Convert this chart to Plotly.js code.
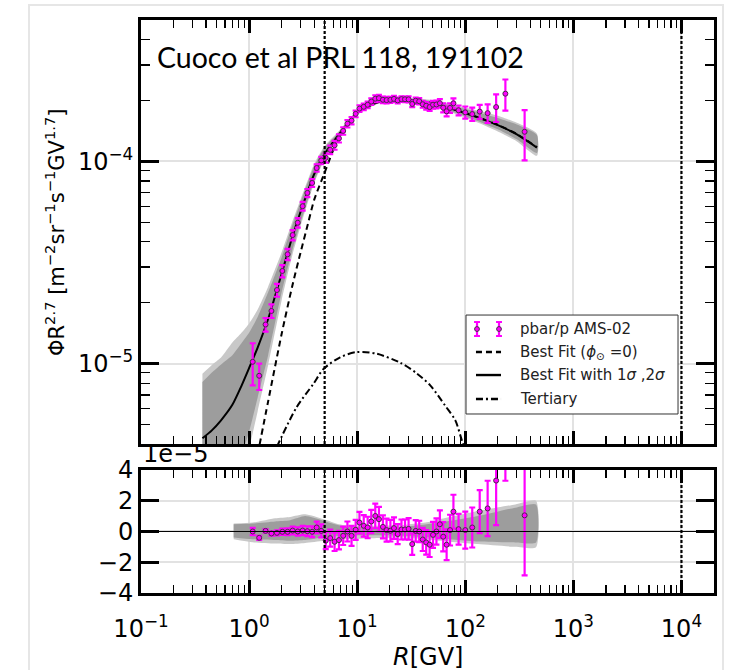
<!DOCTYPE html>
<html><head><meta charset="utf-8">
<script src="https://cdn.plot.ly/plotly-3.0.1.min.js"></script>
<style>
html,body{margin:0;padding:0;background:#fff;}
#wrap{position:relative;width:730px;height:670px;overflow:hidden;}
#chart{width:730px;height:670px;}
#frame{position:absolute;left:28px;top:4px;width:692px;height:700px;border:2px solid #e6e6e6;pointer-events:none;}
</style></head><body>
<div id="wrap"><div id="chart"></div><div id="frame"></div></div>
<script>
// ---------- data (flux values in units of 1e-5) ----------
const SCALE = 1e-5;
const R_data = [1.08,1.24,1.42,1.61,1.81,2.03,2.27,2.53,2.82,3.13,3.46,3.83,4.22,4.65,
  5.12,5.63,6.18,6.78,7.42,8.12,8.87,9.68,10.5,11.5,12.5,13.5,14.7,15.9,17.3,18.7,
  20.3,21.9,23.7,25.7,27.7,29.9,32.3,34.8,37.5,40.4,43.5,46.8,50.3,54.1,58.2,62.5,67.2,72.3,77.7,
  86.7,100,116,136,161,193,235,354];
const flux_e5 = [1.02,0.87,1.56,1.82,2.31,2.87,3.47,4.32,4.97,6.00,6.98,7.82,9.27,10.1,
  10.41,11.40,12.01,12.99,14.14,15.35,15.90,17.17,18.24,18.61,19.05,19.75,20.42,20.52,20.16,20.09,
  20.14,20.36,20.01,20.31,20.27,20.26,19.22,19.95,19.82,19.16,18.83,18.55,19.06,19.10,19.39,18.41,17.68,18.37,19.36,
  17.89,17.47,17.13,17.62,17.31,18.55,21.6,14.0];
const err_e5 = [0.24,0.13,0.12,0.14,0.17,0.2,0.22,0.25,0.27,0.3,0.32,0.35,0.38,0.42,
  0.55,0.55,0.6,0.6,0.6,0.65,0.65,0.65,0.7,0.7,0.7,0.75,0.8,0.8,0.75,0.75,
  0.7,0.7,0.65,0.65,0.65,0.7,0.7,0.7,0.7,0.75,0.8,0.8,0.85,0.85,0.9,0.95,1.0,1.0,1.1,
  1.0,1.2,1.3,1.4,1.8,2.9,3.8,3.9];
const resid_e5 = [0,-0.41,0.04,-0.13,-0.09,-0.02,-0.02,0.06,0,0.06,0.02,-0.02,0.26,0.04,
  -0.6,-0.43,-0.67,-0.56,-0.28,0,-0.28,0.11,0.58,0.37,0.26,0.65,1.01,0.8,0.3,0.09,
  0.05,0.22,-0.17,0.13,0.13,0.17,-0.82,0.04,0,-0.52,-0.71,-0.86,-0.22,0,0.47,-0.34,-0.86,0.09,1.29,
  0.15,0.09,0.26,1.29,1.5,3.31,7.1,1.05];

// best fit with 1 sigma / 2 sigma bands
const R_model = [0.37,0.45,0.55,0.7,0.85,1.0,1.2,1.5,2,2.5,3,4,5,6.5,8,10,15,20,30,50,80,130,200,300,460];
const best_e5 = [0.427,0.466,0.524,0.625,0.776,0.95,1.2,1.66,2.78,4.2,5.65,8.65,10.9,13.2,15.2,17.4,19.5,20.1,20.1,19.3,18.0,16.5,15.1,13.6,11.7];
const band2_hi_e5 = [0.89,0.98,1.07,1.27,1.42,1.58,1.85,2.4,3.55,5.0,6.5,9.7,11.9,13.8,15.65,17.8,19.9,20.5,20.55,20.05,19.0,17.85,16.8,15.5,13.7];
const band1_hi_e5 = [0.81,0.90,0.99,1.1,1.26,1.42,1.7,2.25,3.35,4.8,6.3,9.45,11.7,13.6,15.5,17.7,19.8,20.4,20.4,19.85,18.7,17.5,16.4,15.2,13.5];
const band1_lo_e5 = [0.15,0.17,0.2,0.26,0.35,0.46,0.68,1.1,2.25,3.6,5.0,8.0,10.4,12.9,14.95,17.1,19.25,19.85,19.8,18.9,17.45,15.85,14.4,12.85,11.0];
const band2_lo_e5 = [0.1,0.12,0.15,0.2,0.28,0.38,0.58,0.98,2.05,3.4,4.8,7.8,10.2,12.75,14.8,16.95,19.1,19.7,19.65,18.7,17.2,15.55,14.05,12.55,10.65];

// best fit with phi = 0
const R_phi0 = [1.2,1.5,2,2.5,3,3.5,4,5,6.5,8,10,15,20,30,50,80,130,200,300,460];
const phi0_e5 = [0.355,0.65,1.40,2.40,3.56,4.9,6.45,8.8,12.6,15.0,17.45,19.55,20.15,20.15,19.35,18.05,16.55,15.15,13.65,11.75];

// tertiary
const R_tert = [1.8,2.76,3.94,4.88,6.96,9.9,15,25,35,47.4,65,80.7,93,120];
const tert_e5 = [0.386,0.61,0.794,0.94,1.074,1.14,1.12,1.01,0.90,0.78,0.62,0.525,0.417,0.28];

// residual bands
const R_resband = [0.72,1.08,1.74,2.4,3.3,4.9,6.8,7.9,11.9,26.4,42.7,58.7,131,290,451];
const res2_hi = [0.52,0.58,0.86,0.95,1.12,0.8,0.47,0.4,0.37,0.43,0.58,0.8,1.33,1.76,2.0];
const res2_lo = [-0.5,-0.7,-0.78,-0.82,-0.75,-0.6,-0.52,-0.5,-0.45,-0.39,-0.5,-0.6,-0.82,-1.0,-1.03];
const res1_hi = [0.47,0.52,0.65,0.73,1.0,0.69,0.4,0.3,0.28,0.3,0.45,0.58,1.0,1.55,1.76];
const res1_lo = [-0.39,-0.5,-0.55,-0.6,-0.55,-0.39,-0.3,-0.27,-0.24,-0.28,-0.38,-0.45,-0.65,-0.71,-0.71];

// axes / labels
const xTickVals = [0.1,1,10,100,1000,10000];
const xTickText = ['10<sup>−1</sup>','10<sup>0</sup>','10<sup>1</sup>','10<sup>2</sup>','10<sup>3</sup>','10<sup>4</sup>'];
const yTickVals = [1e-5,1e-4];
const yTickText = ['10<sup>−5</sup>','10<sup>−4</sup>'];
const resTickVals = [-4,-2,0,2,4];
const V_LINES = [5, 1e4];
const X_RANGE = [0.1, 2e4];
const Y_RANGE = [4e-6, 5e-4];
const RES_RANGE = [-4, 4];
const legendLabels = ['pbar/p AMS-02','Best Fit (<i>ϕ</i><sub>⊙</sub> =0)','Best Fit with 1<i>σ</i> ,2<i>σ</i>','Tertiary'];

// ---------- build ----------
const sc = a => a.map(v => v*SCALE);
function poly(x, lo, hi){ return {x: x.concat(x.slice().reverse()), y: hi.concat(lo.slice().reverse())}; }
function minorLog(lo, hi){ const out=[]; for(let d=Math.floor(Math.log10(lo)); d<=Math.ceil(Math.log10(hi)); d++){ for(let k=2;k<=9;k++){ const v=k*Math.pow(10,d); if(v>lo && v<hi) out.push(v);} } return out; }

const FONT = 'DejaVu Sans';
const MAG = '#ff00ff';
const LIGHT = '#c8c8c8', DARK = '#9d9d9d';

const p2 = poly(R_model, sc(band2_lo_e5), sc(band2_hi_e5));
const p1 = poly(R_model, sc(band1_lo_e5), sc(band1_hi_e5));
const q2 = poly(R_resband, res2_lo, res2_hi);
const q1 = poly(R_resband, res1_lo, res1_hi);

const traces = [
  {x:p2.x, y:p2.y, xaxis:'x', yaxis:'y', mode:'lines', fill:'toself', fillcolor:LIGHT, line:{width:0, shape:'spline', smoothing:0.6}, hoverinfo:'skip'},
  {x:p1.x, y:p1.y, xaxis:'x', yaxis:'y', mode:'lines', fill:'toself', fillcolor:DARK, line:{width:0, shape:'spline', smoothing:0.6}, hoverinfo:'skip'},
  {x:R_phi0, y:sc(phi0_e5), xaxis:'x', yaxis:'y', mode:'lines', line:{color:'black', width:2, dash:'6px,4px', shape:'spline', smoothing:0.6}},
  {x:R_tert, y:sc(tert_e5), xaxis:'x', yaxis:'y', mode:'lines', line:{color:'black', width:2, dash:'7px,3px,2px,3px', shape:'spline', smoothing:0.8}},
  {x:R_model, y:sc(best_e5), xaxis:'x', yaxis:'y', mode:'lines', line:{color:'black', width:2, shape:'spline', smoothing:0.6}},
  {x:R_data, y:sc(flux_e5), xaxis:'x', yaxis:'y', mode:'markers',
   marker:{size:5, color:MAG, line:{color:'#4a2a4a', width:1}},
   error_y:{type:'data', array:sc(err_e5), visible:true, color:MAG, thickness:2.2, width:3}},
  {x:q2.x, y:q2.y, xaxis:'x2', yaxis:'y2', mode:'lines', fill:'toself', fillcolor:LIGHT, line:{width:0, shape:'spline', smoothing:0.6}, hoverinfo:'skip'},
  {x:q1.x, y:q1.y, xaxis:'x2', yaxis:'y2', mode:'lines', fill:'toself', fillcolor:DARK, line:{width:0, shape:'spline', smoothing:0.6}, hoverinfo:'skip'},
  {x:R_data, y:resid_e5, xaxis:'x2', yaxis:'y2', mode:'markers',
   marker:{size:5, color:MAG, line:{color:'#4a2a4a', width:1}},
   error_y:{type:'data', array:err_e5, visible:true, color:MAG, thickness:2.2, width:3}}
];

const axCommon = {showline:true, linewidth:3, linecolor:'black', mirror:'allticks', ticks:'inside', tickcolor:'black',
  showgrid:true, gridcolor:'#e2e2e2', gridwidth:2, zeroline:false, tickfont:{family:FONT, size:24, color:'black'}};
const minorX = {tickmode:'array', tickvals:minorLog(X_RANGE[0], X_RANGE[1]), ticks:'inside', ticklen:8, tickwidth:1.3, tickcolor:'black', showgrid:false};
const minorY = {tickmode:'array', tickvals:minorLog(Y_RANGE[0], Y_RANGE[1]), ticks:'inside', ticklen:9, tickwidth:1.3, tickcolor:'black', showgrid:false};

const yTop0 = 0.26, yBot1 = 0.2147;
const layout = {
  width:730, height:670, paper_bgcolor:'white', plot_bgcolor:'white', showlegend:false,
  margin:{l:141, r:16, t:20, b:77},
  font:{family:FONT, color:'black'},
  xaxis: Object.assign({}, axCommon, {type:'log', range:X_RANGE.map(Math.log10), domain:[0,1], anchor:'y',
    tickmode:'array', tickvals:xTickVals, ticktext:xTickText, showticklabels:false, ticklen:13, tickwidth:3, minor:minorX}),
  yaxis: Object.assign({}, axCommon, {type:'log', range:Y_RANGE.map(Math.log10), domain:[yTop0,1], anchor:'x',
    tickmode:'array', tickvals:yTickVals, ticktext:yTickText, ticklen:18, tickwidth:3, minor:minorY}),
  xaxis2: Object.assign({}, axCommon, {type:'log', range:X_RANGE.map(Math.log10), domain:[0,1], anchor:'y2',
    tickmode:'array', tickvals:xTickVals, ticktext:xTickText, ticklen:13, tickwidth:3, minor:minorX, ticklabelstandoff:12}),
  yaxis2: Object.assign({}, axCommon, {type:'linear', range:RES_RANGE, domain:[0,yBot1], anchor:'x2',
    tickmode:'array', tickvals:resTickVals, ticklen:18, tickwidth:3}),
  shapes: [], annotations: []
};

// vertical dotted lines
V_LINES.forEach(v => {
  layout.shapes.push({type:'line', xref:'x', yref:'y domain', x0:v, x1:v, y0:0, y1:1, layer:'above', line:{color:'black', width:2.2, dash:'3px,2px'}});
  layout.shapes.push({type:'line', xref:'x2', yref:'y2 domain', x0:v, x1:v, y0:0, y1:1, layer:'above', line:{color:'black', width:2.2, dash:'3px,2px'}});
});
// residual zero line
layout.shapes.push({type:'line', xref:'x2 domain', yref:'y2', x0:0, x1:1, y0:0, y1:0, layer:'above', line:{color:'black', width:1}});

// custom legend (top panel domain coords)
const LG = {x0:0.5672, x1:0.9372, y0:0.0708, y1:0.3042, rows:[0.2712,0.2170,0.1627,0.1061], sx0:0.5846, sx1:0.6283, tx:0.658};
layout.shapes.push({type:'rect', xref:'x domain', yref:'y domain', x0:LG.x0, x1:LG.x1, y0:LG.y0, y1:LG.y1, layer:'above', fillcolor:'white', line:{color:'#333', width:1}});
[0.5864, 0.6248].forEach(bx => {
  const yc = LG.rows[0], h = 0.0165, cw = 0.0052;
  layout.shapes.push({type:'line', xref:'x domain', yref:'y domain', x0:bx, x1:bx, y0:yc-h, y1:yc+h, layer:'above', line:{color:MAG, width:2.2}});
  layout.shapes.push({type:'line', xref:'x domain', yref:'y domain', x0:bx-cw, x1:bx+cw, y0:yc-h, y1:yc-h, layer:'above', line:{color:MAG, width:2}});
  layout.shapes.push({type:'line', xref:'x domain', yref:'y domain', x0:bx-cw, x1:bx+cw, y0:yc+h, y1:yc+h, layer:'above', line:{color:MAG, width:2}});
  layout.shapes.push({type:'circle', xref:'x domain', yref:'y domain', x0:bx-0.0042, x1:bx+0.0042, y0:yc-0.0057, y1:yc+0.0057, layer:'above', fillcolor:MAG, line:{color:'#4a2a4a', width:1}});
});
[['6px,4px',1],['solid',2],['7px,3px,2px,3px',3]].forEach(([d,i]) => {
  layout.shapes.push({type:'line', xref:'x domain', yref:'y domain', x0:LG.sx0, x1:LG.sx1, y0:LG.rows[i], y1:LG.rows[i], layer:'above', line:{color:'black', width:2.4, dash:d}});
});
legendLabels.forEach((t,i) => {
  layout.annotations.push({xref:'x domain', yref:'y domain', x:LG.tx, y:LG.rows[i], xanchor:'left', yanchor:'middle', showarrow:false, text:t, font:{family:FONT, size:15, color:'#222'}});
});

// titles / texts
layout.annotations.push({xref:'paper', yref:'paper', x:0.0244, y:0.9354, xanchor:'left', yanchor:'middle', showarrow:false,
  text:'Cuoco et al PRL 118, 191102', font:{family:'Lato', size:28.5, color:'black'}});
layout.annotations.push({xref:'paper', yref:'y domain', x:-0.1501, y:0.5, xanchor:'center', yanchor:'middle', showarrow:false, textangle:-90,
  text:'ΦR<sup>2.7</sup> [m<sup>−2</sup>sr<sup>−1</sup>s<sup>−1</sup>GV<sup>1.7</sup>]', font:{family:FONT, size:21, color:'black'}});
layout.annotations.push({xref:'paper', yref:'paper', x:0.5, y:-0.1117, xanchor:'center', yanchor:'middle', showarrow:false,
  text:'<i>R</i>[GV]', font:{family:FONT, size:24, color:'black'}});
layout.annotations.push({xref:'paper', yref:'y2 domain', x:0, y:1, xanchor:'left', yanchor:'bottom', showarrow:false,
  text:'1e−5', font:{family:FONT, size:24, color:'black'}});

Plotly.newPlot('chart', traces, layout, {displayModeBar:false, staticPlot:true});
</script></body></html>
